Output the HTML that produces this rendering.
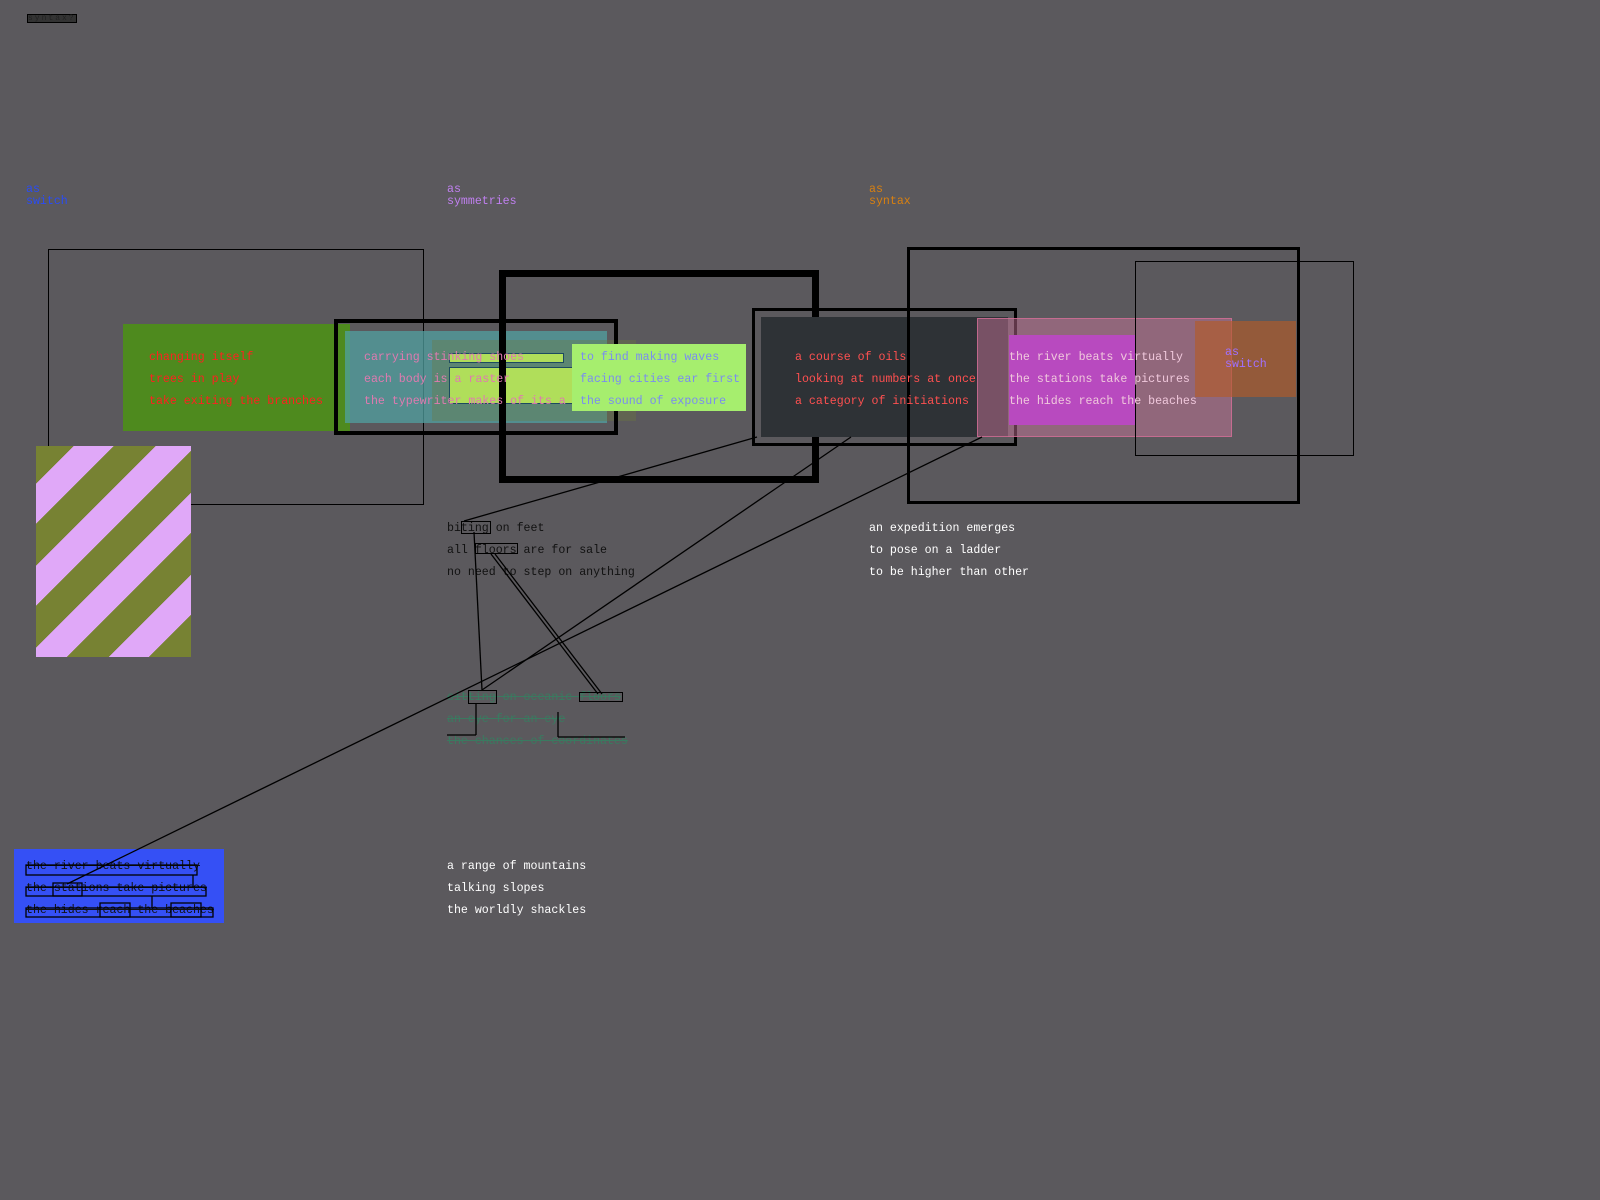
<!DOCTYPE html>
<html><head><meta charset="utf-8"><style>
html,body{margin:0;padding:0}
body{width:1600px;height:1200px;background:#5b595d;position:relative;overflow:hidden;font-family:"Liberation Mono","DejaVu Sans Mono",monospace;font-size:11.6px}
.a{position:absolute}
.t{position:absolute;white-space:pre;line-height:12px}
.b{position:absolute;box-sizing:border-box;border:solid #000}
</style></head><body>

<div class="t" style="left:27px;top:14px;font-size:8px;color:#222;background:#333;border:1px solid #000;line-height:7px;letter-spacing:2px">syntax?</div>

<div class="t" style="left:26px;top:184px;color:#2a4cf5">as
switch</div>
<div class="t" style="left:447px;top:184px;color:#c080f0">as
symmetries</div>
<div class="t" style="left:869px;top:184px;color:#d98010">as
syntax</div>

<div class="b" style="left:48px;top:249px;width:376px;height:256px;border-width:1.5px"></div>
<div class="a" style="left:123px;top:324px;width:227px;height:107px;background:#4e8a1e"></div>
<div class="a" style="left:345px;top:331px;width:262px;height:92px;background:rgba(80,160,160,0.75)"></div>
<div class="a" style="left:432px;top:340px;width:204px;height:81px;background:rgba(110,120,60,0.35)"></div>
<div class="a" style="left:449px;top:367px;width:122px;height:35px;background:#b0de5a;border:1px solid #1d4a60"></div>
<div class="a" style="left:449px;top:353px;width:113px;height:8px;background:#b0de5a;border:1px solid #1d4a60"></div>
<div class="b" style="left:334px;top:319px;width:284px;height:116px;border-width:4px"></div>
<div class="a" style="left:572px;top:344px;width:174px;height:67px;background:#a6ee6e"></div>
<div class="b" style="left:499px;top:270px;width:320px;height:213px;border-width:7px"></div>

<div class="a" style="left:761px;top:317px;width:247px;height:120px;background:#2e3236"></div>
<div class="b" style="left:752px;top:308px;width:265px;height:138px;border-width:3px"></div>
<div class="b" style="left:907px;top:247px;width:393px;height:257px;border-width:3px"></div>
<div class="a" style="left:977px;top:318px;width:253px;height:117px;background:rgba(210,120,160,0.45);border:1px solid rgba(210,110,150,0.8)"></div>
<div class="a" style="left:1009px;top:335px;width:127px;height:90px;background:#b84abf"></div>
<div class="a" style="left:1195px;top:321px;width:101px;height:76px;background:rgba(180,90,40,0.65)"></div>
<div class="b" style="left:1135px;top:261px;width:219px;height:195px;border-width:1.5px"></div>

<div class="a" style="left:36px;top:446px;width:155px;height:211px;background:repeating-linear-gradient(-45deg,#778233 0 30px,#e0a8f8 30px 58px)"></div>

<div class="a" style="left:14px;top:849px;width:210px;height:74px;background:#3550f5"></div>

<div class="t" style="left:149px;top:347px;color:#ff2020;line-height:22px">changing itself
trees in play
take exiting the branches</div>
<div class="t" style="left:364px;top:347px;color:#e07ab0;line-height:22px">carrying stinking shoes
each body is a raster
the typewriter makes of its a</div>
<div class="t" style="left:580px;top:347px;color:#7a8cf0;line-height:22px">to find making waves
facing cities ear first
the sound of exposure</div>
<div class="t" style="left:795px;top:347px;color:#ff5050;line-height:22px">a course of oils
looking at numbers at once
a category of initiations</div>
<div class="t" style="left:1009px;top:347px;color:#f0c8dc;line-height:22px">the river beats virtually
the stations take pictures
the hides reach the beaches</div>
<div class="t" style="left:1225px;top:347px;color:#a070ff">as
switch</div>

<div class="t" style="left:447px;top:518px;color:#111;line-height:22px">biting on feet
all floors are for sale
no need to step on anything</div>
<div class="b" style="left:461px;top:521px;width:30px;height:13px;border-width:1px"></div>
<div class="b" style="left:475px;top:543px;width:43px;height:11px;border-width:1px"></div>

<div class="t" style="left:447px;top:687px;color:#3a7a60;line-height:22px;text-decoration:line-through">sitting on oceanic floors
an eye for an eye
the chances of coordinates</div>
<div class="b" style="left:468px;top:690px;width:29px;height:14px;border-width:1px"></div>
<div class="b" style="left:579px;top:692px;width:44px;height:10px;border-width:1px"></div>

<div class="t" style="left:869px;top:518px;color:#fff;line-height:22px">an expedition emerges
to pose on a ladder
to be higher than other</div>
<div class="t" style="left:447px;top:856px;color:#fff;line-height:22px">a range of mountains
talking slopes
the worldly shackles</div>
<div class="t" style="left:26px;top:856px;color:#111;line-height:22px;text-decoration:line-through">the river beats virtually
the stations take pictures
the hides reach the beaches</div>

<svg class="a" style="left:0;top:0" width="1600" height="1200">
<g stroke="#000" stroke-width="1.3" fill="none">
<line x1="757" y1="437" x2="464" y2="521"/>
<line x1="851" y1="437" x2="482" y2="690"/>
<line x1="982" y1="437" x2="67" y2="884"/>
<line x1="474" y1="532" x2="482" y2="690"/>
<line x1="491" y1="554" x2="598" y2="694"/>
<line x1="495" y1="554" x2="602" y2="694"/>
<line x1="476" y1="704" x2="476" y2="735"/><line x1="447" y1="735" x2="476" y2="735"/>
<line x1="558" y1="712" x2="558" y2="737"/><line x1="558" y1="737" x2="625" y2="737"/>
<rect x="26" y="865" width="171" height="10"/>
<rect x="26" y="887" width="180" height="9"/>
<rect x="26" y="908" width="187" height="9"/>
<rect x="53" y="883" width="29" height="13"/>
<rect x="100" y="903" width="30" height="14"/>
<rect x="171" y="903" width="30" height="14"/>
<line x1="193" y1="875" x2="193" y2="887"/>
<line x1="152" y1="896" x2="152" y2="908"/>
</g>
</svg>
</body></html>
